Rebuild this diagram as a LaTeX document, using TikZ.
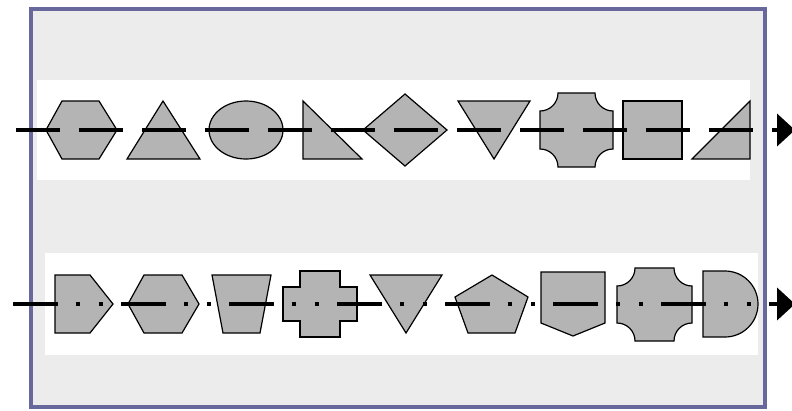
\documentclass[tikz,border=0pt]{standalone}
\usepackage{tikz}
\usetikzlibrary{arrows.meta}

\definecolor{framecol}{RGB}{104,104,156}
\definecolor{panelgray}{RGB}{236,236,236}
\definecolor{shapegray}{RGB}{180,180,180}

\begin{document}
\begin{tikzpicture}[x=1pt, y=-1pt,
  piece/.style={fill=shapegray, draw=black, line width=1.2pt, line join=miter},
  track/.style={line width=4pt},
  tip/.style={-{Triangle[length=18pt,width=32pt]}}]
\useasboundingbox (0,0) rectangle (792,410);
\coordinate (F1) at (30.5,8.5);
\coordinate (F2) at (764.5,406.5);
\coordinate (R1s) at (16,130);
\coordinate (R1e) at (795,130);
\coordinate (R2s) at (13,304);
\coordinate (R2e) at (795,304);
\draw[draw=framecol, fill=panelgray, line width=4pt] (F1) rectangle (F2);
\fill[white] (37,80) rectangle (750,180);
\fill[white] (45,253) rectangle (758,355);
% first row
\draw[piece] (62,101) -- (99,101) -- (117,130) -- (99,159) -- (62,159) -- (46,130) -- cycle;
\draw[piece] (163,101) -- (200,159) -- (127,159) -- cycle;
\draw[piece] (246,130) ellipse [x radius=37, y radius=29];
\draw[piece] (303,101) -- (362,159) -- (303,159) -- cycle;
\draw[piece] (363,130) -- (405,94) -- (447,130) -- (405,166) -- cycle;
\draw[piece] (458,101) -- (530,101) -- (494,159) -- cycle;
\draw[piece] (558,93) -- (595,93) arc[start angle=180, end angle=90, radius=18]
  -- (613,149) arc[start angle=270, end angle=180, radius=18]
  -- (558,167) arc[start angle=0, end angle=-90, radius=18]
  -- (540,111) arc[start angle=90, end angle=0, radius=18] -- cycle;
\draw[piece] (623,101) rectangle (682,159);
\draw[piece] (692,159) -- (750,101) -- (750,159) -- cycle;
\draw[track, dash pattern=on 44pt off 19pt, tip] (R1s) -- (R1e);
% second row
\draw[piece] (55,275) -- (90,275) -- (113,304) -- (90,333) -- (55,333) -- cycle;
\draw[piece] (144,275) -- (182,275) -- (199,304) -- (182,333) -- (144,333) -- (128,304) -- cycle;
\draw[piece] (212,275) -- (271,275) -- (260,333) -- (223,333) -- cycle;
\draw[piece] (300,271) -- (340,271) -- (340,287) -- (357,287) -- (357,321) -- (340,321)
  -- (340,337) -- (300,337) -- (300,321) -- (283,321) -- (283,287) -- (300,287) -- cycle;
\draw[piece] (370,275) -- (442,275) -- (406,333) -- cycle;
\draw[piece] (492,275) -- (528,297) -- (515,333) -- (468,333) -- (455,297) -- cycle;
\draw[piece] (541,272) -- (605,272) -- (605,323) -- (573,336) -- (541,323) -- cycle;
\draw[piece] (635,268) -- (674,268) arc[start angle=180, end angle=90, radius=18]
  -- (692,323) arc[start angle=270, end angle=180, radius=18]
  -- (635,341) arc[start angle=0, end angle=-90, radius=18]
  -- (617,286) arc[start angle=90, end angle=0, radius=18] -- cycle;
\draw[piece] (703,271) -- (725,271) arc[start angle=-90, end angle=90, radius=33]
  -- (703,337) -- cycle;
\draw[track, dash pattern=on 45pt off 18pt on 4pt off 19pt on 4pt off 18pt, tip] (R2s) -- (R2e);
\end{tikzpicture}
\end{document}
